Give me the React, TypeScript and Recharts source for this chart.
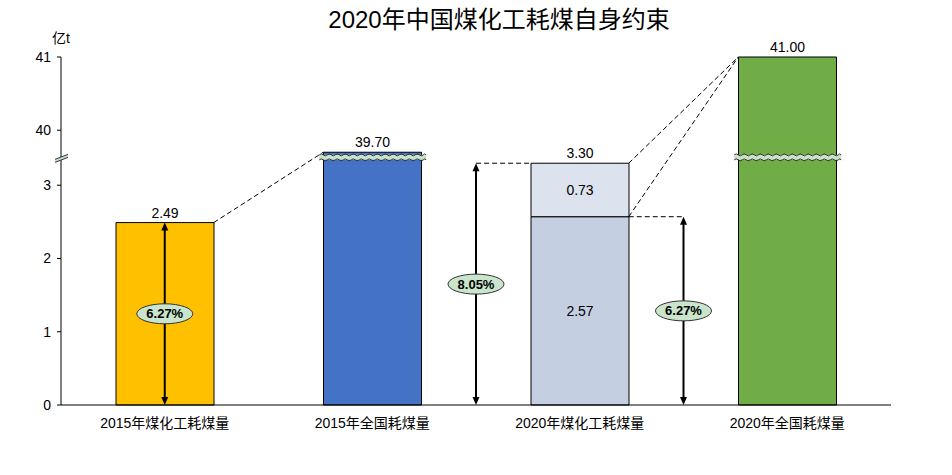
import React from "react";
import {
  ComposedChart,
  Bar,
  Cell,
  XAxis,
  YAxis,
  LabelList,
  ReferenceLine,
  ReferenceDot,
} from "recharts";

// chart data
const categories = [
  "2015年煤化工耗煤量",
  "2015年全国耗煤量",
  "2020年煤化工耗煤量",
  "2020年全国耗煤量",
];
const baseValues = [2.49, 39.7, 2.57, 41.0];
const extraValues = [0, 0, 0.73, 0];
const barColors = ["#FFC000", "#4472C4", "#C5CFE2", "#70AD47"];
const shares = ["6.27%", "8.05%", "6.27%"];
const yTickValues = [0, 1, 2, 3, 40, 41];

// broken axis: values above the break are shifted down
const BREAK_SHIFT = 36.25;
const BREAK_AT = 3.38;
const toPlot = (v: number) => (v > 10 ? v - BREAK_SHIFT : v);
const fromPlot = (v: number) => (v > 3.5 ? v + BREAK_SHIFT : v);

const HALF = 0.236; // half bar width in category units (hidden numeric axis)

const data = categories.map((name, i) => {
  const stacked = extraValues[i] > 0;
  return {
    name,
    pos: i + 0.5,
    base: toPlot(baseValues[i]),
    extra: extraValues[i],
    topLabel: stacked ? "" : baseValues[i].toFixed(2),
    midLabel: stacked ? baseValues[i].toFixed(2) : "",
    extraMid: stacked ? extraValues[i].toFixed(2) : "",
    totalLabel: stacked ? (baseValues[i] + extraValues[i]).toFixed(2) : "",
  };
});

const FONT = "'Liberation Sans', Arial, 'Noto Sans CJK SC', sans-serif";

function Arrow(props: any) {
  const { x1, y1, y2 } = props;
  const top = Math.min(y1, y2);
  const bot = Math.max(y1, y2);
  const x = x1;
  return (
    <g>
      <line x1={x} y1={top + 6} x2={x} y2={bot - 6} stroke="#000" strokeWidth={2} />
      <polygon points={`${x},${top} ${x - 3.5},${top + 8} ${x + 3.5},${top + 8}`} fill="#000" />
      <polygon points={`${x},${bot} ${x - 3.5},${bot - 8} ${x + 3.5},${bot - 8}`} fill="#000" />
    </g>
  );
}

function Dashed(props: any) {
  const { x1, y1, x2, y2 } = props;
  return <line x1={x1} y1={y1} x2={x2} y2={y2} stroke="#000" strokeWidth={1} strokeDasharray="5 3" />;
}

function wave(x1: number, x2: number, y: number) {
  let d = `M${x1},${y}`;
  const step = 4;
  let up = true;
  for (let x = x1; x < x2; x += step) {
    const nx = Math.min(x + step, x2);
    d += ` Q${(x + nx) / 2},${y + (up ? -2 : 2)} ${nx},${y}`;
    up = !up;
  }
  return d;
}

function WavyBreak(props: any) {
  const { x1, x2, y1 } = props;
  const a = x1 - 4;
  const b = x2 + 5;
  return (
    <g>
      <rect x={a} y={y1 - 2.5} width={b - a} height={5} fill="#C9E2C9" />
      <path d={wave(a, b, y1 - 2.5)} fill="none" stroke="#333" strokeWidth={1} />
      <path d={wave(a, b, y1 + 2.5)} fill="none" stroke="#333" strokeWidth={1} />
    </g>
  );
}

function AxisBreak(props: any) {
  const { cx, cy } = props;
  return (
    <g>
      <polygon
        points={`${cx - 6},${cy + 2} ${cx + 7},${cy - 3} ${cx + 7},${cy} ${cx - 6},${cy + 5}`}
        fill="#C9E2C9"
      />
      <line x1={cx - 6} y1={cy + 2} x2={cx + 7} y2={cy - 3} stroke="#333" />
      <line x1={cx - 6} y1={cy + 5} x2={cx + 7} y2={cy} stroke="#333" />
    </g>
  );
}

const ShareBubble = (text: string) => (props: any) => {
  const { cx, cy } = props;
  return (
    <g>
      <ellipse cx={cx} cy={cy} rx={28} ry={10} fill="#C9E6CC" stroke="#333" strokeWidth={1} />
      <text
        x={cx}
        y={cy}
        textAnchor="middle"
        dominantBaseline="central"
        fontSize={13}
        fontWeight="bold"
        fontFamily={FONT}
        fill="#000"
      >
        {text}
      </text>
    </g>
  );
};

export default function App() {
  const labelStyle = { fontSize: 14, fill: "#000", fontFamily: FONT };
  return (
    <div style={{ position: "absolute", left: 0, top: 0, width: 952, height: 475, background: "#fff" }}>
      <div
        style={{
          position: "absolute",
          left: 499,
          top: 0,
          transform: "translateX(-50%)",
          fontSize: 24,
          fontFamily: FONT,
          color: "#000",
          whiteSpace: "nowrap",
        }}
      >
        2020年中国煤化工耗煤自身约束
      </div>
      <div
        style={{
          position: "absolute",
          left: 52,
          top: 27,
          fontSize: 14,
          fontFamily: FONT,
          color: "#000",
        }}
      >
        亿t
      </div>
      <ComposedChart
        width={952}
        height={475}
        data={data}
        margin={{ top: 57, right: 61, bottom: 40, left: 11 }}
      >
        <XAxis
          dataKey="name"
          xAxisId={0}
          tickLine={false}
          axisLine={{ stroke: "#000" }}
          tickMargin={7}
          tick={{ fontSize: 14, fill: "#000", fontFamily: FONT }}
          height={30}
          interval={0}
        />
        <XAxis
          xAxisId="num"
          dataKey="pos"
          type="number"
          domain={[0, 4]}
          ticks={[0, 1, 2, 3, 4]}
          allowDataOverflow
          hide
        />
        <YAxis
          type="number"
          domain={[0, 4.75]}
          ticks={yTickValues.map(toPlot)}
          tickFormatter={(v: number) => String(Math.round(fromPlot(v)))}
          width={50}
          tickSize={4}
          tickMargin={6}
          axisLine={{ stroke: "#000" }}
          tickLine={{ stroke: "#000" }}
          tick={{ fontSize: 14, fill: "#000", fontFamily: FONT }}
          interval={0}
        />
        <Bar dataKey="base" stackId="a" barSize={98} stroke="#000" strokeWidth={1} isAnimationActive={false}>
          {data.map((d, i) => (
            <Cell key={d.name} fill={barColors[i]} />
          ))}
          <LabelList dataKey="topLabel" position="top" offset={5} style={labelStyle} />
          <LabelList dataKey="midLabel" position="center" style={labelStyle} />
        </Bar>
        <Bar dataKey="extra" stackId="a" barSize={98} fill="#DDE3EE" stroke="#000" strokeWidth={1} isAnimationActive={false}>
          <LabelList dataKey="extraMid" position="center" style={labelStyle} />
          <LabelList dataKey="totalLabel" position="top" offset={5} style={labelStyle} />
        </Bar>

        {/* connecting dashed lines */}
        <ReferenceLine
          xAxisId="num"
          segment={[{ x: 0.5 + HALF, y: baseValues[0] }, { x: 1.5 - HALF, y: toPlot(baseValues[1]) }]}
          shape={Dashed}
        />
        <ReferenceLine
          xAxisId="num"
          segment={[{ x: 2.5 + HALF, y: baseValues[2] + extraValues[2] }, { x: 3.5 - HALF, y: toPlot(baseValues[3]) }]}
          shape={Dashed}
        />
        <ReferenceLine
          xAxisId="num"
          segment={[{ x: 2.5 + HALF, y: baseValues[2] }, { x: 3.5 - HALF, y: toPlot(baseValues[3]) }]}
          shape={Dashed}
        />
        <ReferenceLine
          xAxisId="num"
          segment={[{ x: 2, y: baseValues[2] + extraValues[2] }, { x: 2.5 - HALF, y: baseValues[2] + extraValues[2] }]}
          shape={Dashed}
        />
        <ReferenceLine
          xAxisId="num"
          segment={[{ x: 2.5 + HALF, y: baseValues[2] }, { x: 3, y: baseValues[2] }]}
          shape={Dashed}
        />

        {/* arrows */}
        <ReferenceLine xAxisId="num" segment={[{ x: 0.5, y: 0 }, { x: 0.5, y: baseValues[0] }]} shape={Arrow} />
        <ReferenceLine
          xAxisId="num"
          segment={[{ x: 2, y: 0 }, { x: 2, y: baseValues[2] + extraValues[2] }]}
          shape={Arrow}
        />
        <ReferenceLine xAxisId="num" segment={[{ x: 3, y: 0 }, { x: 3, y: baseValues[2] }]} shape={Arrow} />

        {/* axis breaks */}
        <ReferenceLine
          xAxisId="num"
          segment={[{ x: 1.5 - HALF, y: BREAK_AT }, { x: 1.5 + HALF, y: BREAK_AT }]}
          shape={WavyBreak}
        />
        <ReferenceLine
          xAxisId="num"
          segment={[{ x: 3.5 - HALF, y: BREAK_AT }, { x: 3.5 + HALF, y: BREAK_AT }]}
          shape={WavyBreak}
        />
        <ReferenceDot xAxisId="num" x={0} y={BREAK_AT} ifOverflow="visible" shape={AxisBreak} />

        {/* share bubbles */}
        <ReferenceDot xAxisId="num" x={0.5} y={baseValues[0] / 2} shape={ShareBubble(shares[0])} />
        <ReferenceDot
          xAxisId="num"
          x={2}
          y={(baseValues[2] + extraValues[2]) / 2}
          shape={ShareBubble(shares[1])}
        />
        <ReferenceDot xAxisId="num" x={3} y={baseValues[2] / 2} shape={ShareBubble(shares[2])} />
      </ComposedChart>
    </div>
  );
}
